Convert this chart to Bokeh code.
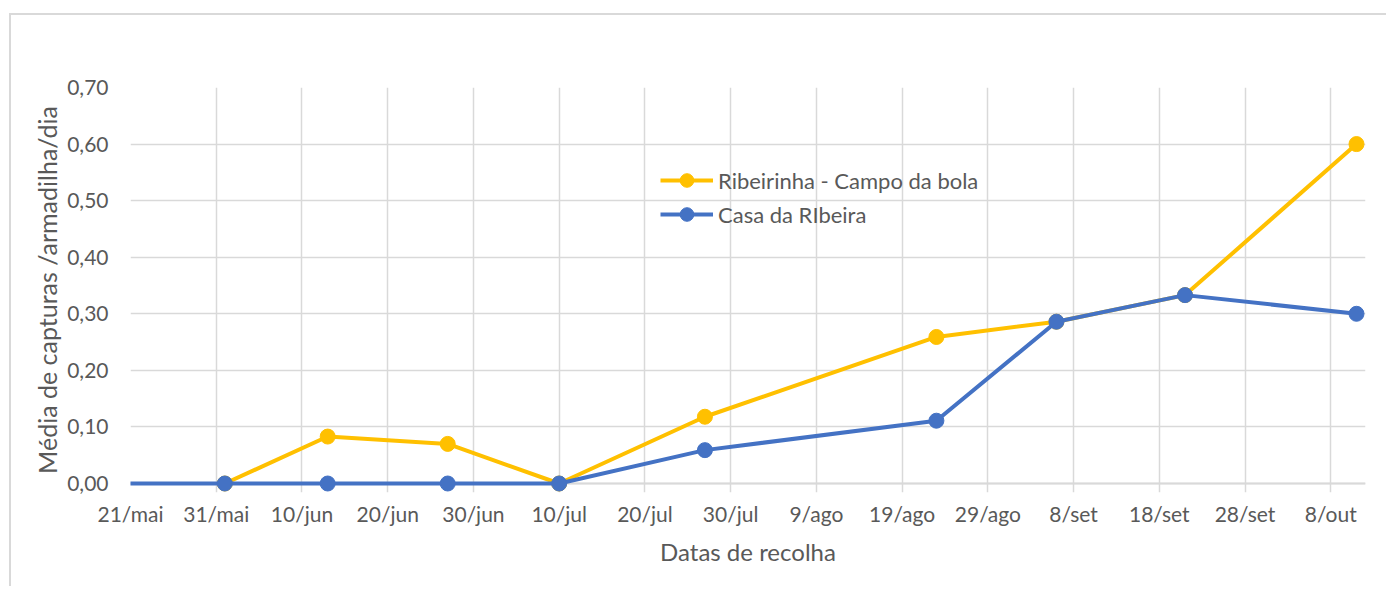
import pandas as pd
from bokeh.plotting import figure
from bokeh.models import FixedTicker, CustomJSTickFormatter, Range1d, Legend, LegendItem, Span
from bokeh.embed import file_html
from bokeh.resources import INLINE

# ---- data ----
start_date = "2021-05-21"
end_date = "2021-10-11"
dates_ribeirinha = ["2021-06-01", "2021-06-13", "2021-06-27", "2021-07-10", "2021-07-27",
                    "2021-08-23", "2021-09-06", "2021-09-21", "2021-10-11"]
ribeirinha = [0.0, 0.083, 0.070, 0.0, 0.118, 0.259, 0.286, 0.333, 0.600]
dates_casa = ["2021-05-18", "2021-06-01", "2021-06-13", "2021-06-27", "2021-07-10", "2021-07-27",
              "2021-08-23", "2021-09-06", "2021-09-21", "2021-10-11"]
casa_ribeira = [0.0, 0.0, 0.0, 0.0, 0.0, 0.059, 0.111, 0.286, 0.333, 0.300]
series_names = ["Ribeirinha - Campo da bola", "Casa da RIbeira"]
x_tick_days = [0, 10, 20, 30, 40, 50, 60, 70, 80, 90, 100, 110, 120, 130, 140]
x_tick_labels = ["21/mai", "31/mai", "10/jun", "20/jun", "30/jun", "10/jul", "20/jul",
                 "30/jul", "9/ago", "19/ago", "29/ago", "8/set", "18/set", "28/set", "8/out"]
y_ticks = [0.0, 0.1, 0.2, 0.3, 0.4, 0.5, 0.6, 0.7]
y_max = 0.7

t0 = pd.Timestamp(start_date)
def to_days(ds):
    return [(pd.Timestamp(d) - t0).days for d in ds]
x_end = (pd.Timestamp(end_date) - t0).days

FONT = "Lato"
TXT = "#595959"
GRID = "#d9d9d9"
YELLOW = "#FFC000"
BLUE = "#4472C4"

# small padding so that markers on the edges are not cut
x_pad = 1.05
y_pad = 0.0159

p = figure(width=1377, height=573, output_backend="svg", toolbar_location=None,
           x_range=Range1d(0, x_end + x_pad), y_range=Range1d(-y_pad, y_max),
           min_border_left=119, min_border_top=72, min_border_right=23, min_border_bottom=96)
p.styles = {"border-left": "2px solid #d9d9d9", "border-top": "2px solid #d9d9d9",
            "margin-top": "13px", "margin-left": "9px"}
p.outline_line_color = None
p.background_fill_color = "white"
p.border_fill_color = "white"

# axes
p.xaxis.ticker = FixedTicker(ticks=x_tick_days)
p.xaxis.major_label_overrides = {d: l for d, l in zip(x_tick_days, x_tick_labels)}
p.yaxis.ticker = FixedTicker(ticks=y_ticks)
p.yaxis.formatter = CustomJSTickFormatter(code="return tick.toFixed(2).replace('.', ',');")
for ax in (p.xaxis, p.yaxis):
    ax.major_tick_line_color = None
    ax.minor_tick_line_color = None
    ax.axis_line_color = None
    ax.major_label_text_font = FONT
    ax.major_label_text_color = TXT
    ax.major_label_text_font_size = "21px"
    ax.axis_label_text_font = FONT
    ax.axis_label_text_color = TXT
    ax.axis_label_text_font_size = "24px"
    ax.axis_label_text_font_style = "normal"
p.yaxis.axis_label_text_font_size = "25px"
p.xaxis.axis_label = "Datas de recolha"
p.yaxis.axis_label = "Média de capturas /armadilha/dia"
p.xaxis.major_label_standoff = 2
p.yaxis.major_label_standoff = 16
p.xaxis.axis_label_standoff = 8
p.yaxis.axis_label_standoff = 2

p.xgrid.ticker = FixedTicker(ticks=x_tick_days)
p.ygrid.ticker = FixedTicker(ticks=y_ticks)
p.xgrid.grid_line_color = GRID
p.ygrid.grid_line_color = GRID
p.xgrid.grid_line_width = 1.5
p.ygrid.grid_line_width = 1.5
p.xgrid.bounds = (0, y_max)
p.ygrid.bounds = (0, x_end)

# horizontal axis line at zero, under the series
p.add_layout(Span(location=0, dimension="width", line_color=GRID, line_width=2, level="underlay"))

items = []
for ds, vals, color, name in ((dates_ribeirinha, ribeirinha, YELLOW, series_names[0]),
                              (dates_casa, casa_ribeira, BLUE, series_names[1])):
    xs = to_days(ds)
    l = p.line(xs, vals, line_color=color, line_width=4)
    s = p.scatter(xs, vals, marker="circle", size=15, fill_color=color, line_color=color)
    items.append(LegendItem(label=name, renderers=[l, s]))

legend = Legend(items=items, location=(530, 261), background_fill_alpha=0,
                border_line_alpha=0, glyph_width=53, glyph_height=34, label_height=32,
                label_text_font=FONT, label_text_color=TXT, label_text_font_size="22px",
                padding=0, margin=0, spacing=0, label_standoff=5)
p.add_layout(legend, "center")

open("out.html", "w").write(file_html(p, INLINE))
